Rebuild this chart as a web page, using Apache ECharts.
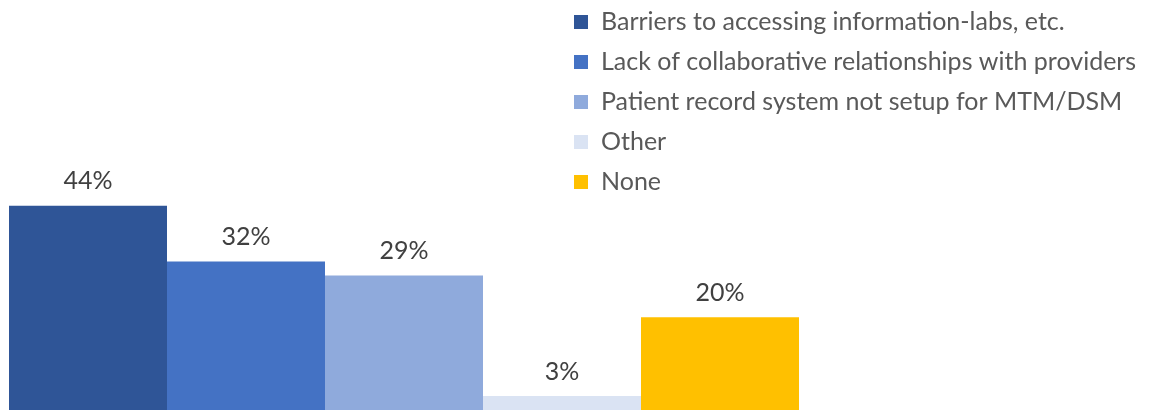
<!DOCTYPE html>
<html>
<head>
<meta charset="utf-8">
<script src="https://cdn.jsdelivr.net/npm/echarts@6/dist/echarts.min.js"></script>
<style>html,body{margin:0;padding:0;background:#fff}#c{width:1165px;height:410px}</style>
</head>
<body>
<div id="c"></div>
<script>
const categories = ['Barriers to accessing information-labs, etc.', 'Lack of collaborative relationships with providers', 'Patient record system not setup for MTM/DSM', 'Other', 'None'];
const values = [44, 32, 29, 3, 20];
const colors = ['#2F5597', '#4472C4', '#8FAADC', '#DAE3F3', '#FFC000'];
const FONT = 'Lato, "Open Sans", sans-serif';

const chart = echarts.init(document.getElementById('c'));
chart.setOption({
  animation: false,
  legend: {
    orient: 'vertical', left: 569, top: 4,
    itemWidth: 14, itemHeight: 14, itemGap: 14,
    icon: 'rect',
    textStyle: { fontFamily: FONT, fontSize: 25, color: '#595959', lineHeight: 26, padding: [0,0,0,8] },
    data: categories
  },
  grid: { left: 9, right: 366, top: 178, bottom: -3 },
  xAxis: { type: 'category', data: [''], show: false },
  yAxis: { type: 'value', min: 0, max: 50, show: false },
  series: categories.map((name, i) => ({
    name, type: 'bar', data: [values[i]],
    barGap: '0%', barCategoryGap: '0%',
    itemStyle: { color: colors[i] },
    label: { show: true, position: 'top', distance: 12, formatter: '{c}%', fontFamily: FONT, fontSize: 25, color: '#404040' }
  }))
});
</script>
</body>
</html>
